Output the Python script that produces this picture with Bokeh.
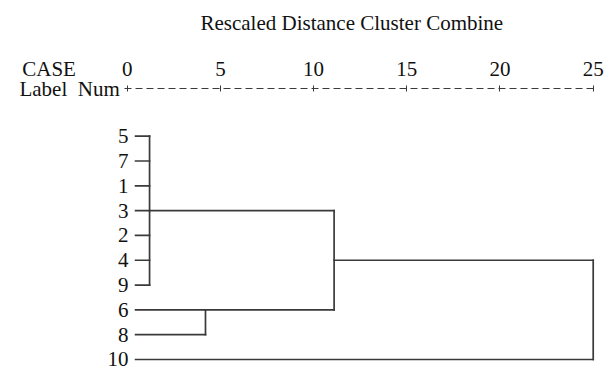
from bokeh.plotting import figure
from bokeh.models import Range1d, FixedTicker, Label, ColumnDataSource
from bokeh.core.properties import value
from bokeh.embed import file_html
from bokeh.resources import INLINE

# ---- data ----
case_labels = ["5", "7", "1", "3", "2", "4", "9", "6", "8", "10"]
# merges: members (case labels or earlier merge ids), rescaled distance, row that carries the joined line on
merge_members = [["5", "7", "1", "3", "2", "4", "9"], ["6", "8"], ["m0", "m1"], ["m2", "10"]]
merge_dist = [1.2, 4.2, 11.1, 25.0]
merge_link = ["3", "6", "4", None]
axis_ticks = [0, 5, 10, 15, 20, 25]
title_text = "Rescaled Distance Cluster Combine"
head_case = "CASE"
head_label = "Label\u00a0\u00a0Num"

FONT = "Liberation Serif"
FS = "21px"
LEAF_START = 0.45
COL = "#3a3a3a"
TXT = "#111111"

p = figure(width=605, height=372, output_backend="svg", toolbar_location=None,
           x_axis_location="above", y_axis_location=None,
           x_range=Range1d(-1.1105, 25.66), y_range=Range1d(9.524, -1.923),
           min_border_left=106, min_border_right=0, min_border_bottom=0, min_border_top=88)
p.outline_line_color = None
p.grid.grid_line_color = None
p.background_fill_color = "white"
p.border_fill_color = "white"

ax = p.xaxis[0]
ax.ticker = FixedTicker(ticks=axis_ticks)
ax.bounds = (-0.15, 25.25)
ax.axis_line_dash = "7 4"
ax.axis_line_color = COL
ax.axis_line_width = 1
ax.major_tick_in = 3
ax.major_tick_out = 3
ax.major_tick_line_color = COL
ax.minor_tick_line_color = None
ax.major_label_text_font = FONT
ax.major_label_text_font_size = FS
ax.major_label_text_color = TXT
ax.major_label_standoff = 10

# ---- build dendrogram segments ----
row = {c: i for i, c in enumerate(case_labels)}
nodes = {c: (row[c], LEAF_START) for c in case_labels}
x0, y0, x1, y1 = [], [], [], []
for k, (mem, d, link) in enumerate(zip(merge_members, merge_dist, merge_link)):
    rows = []
    for m in mem:
        r, xs = nodes[m]
        x0.append(xs); y0.append(r); x1.append(d); y1.append(r)
        rows.append(r)
    x0.append(d); y0.append(min(rows)); x1.append(d); y1.append(max(rows))
    nodes["m%d" % k] = (row[link] if link else min(rows), d)

src = ColumnDataSource(dict(x0=x0, y0=y0, x1=x1, y1=y1))
p.segment("x0", "y0", "x1", "y1", source=src, line_color=COL, line_width=1.7, line_cap="square")

lab = ColumnDataSource(dict(x=[0.07] * len(case_labels), y=list(range(len(case_labels))), t=case_labels))
p.text("x", "y", text="t", source=lab, text_align="right", text_baseline="middle",
       text_font=value(FONT), text_font_size=FS, text_color=TXT)

p.add_layout(Label(x=3.93, y=-4.583, text=title_text, text_font=FONT, text_font_size=FS,
                   text_baseline="middle", text_color=TXT), "above")
p.add_layout(Label(x=-5.63, y=-2.70, text=head_case, text_font=FONT, text_font_size=FS,
                   text_baseline="middle", text_color=TXT), "above")
p.add_layout(Label(x=-5.78, y=-1.923, text=head_label, text_font=FONT, text_font_size=FS,
                   text_baseline="middle", text_color=TXT), "left")

open("out.html", "w").write(file_html(p, INLINE))
